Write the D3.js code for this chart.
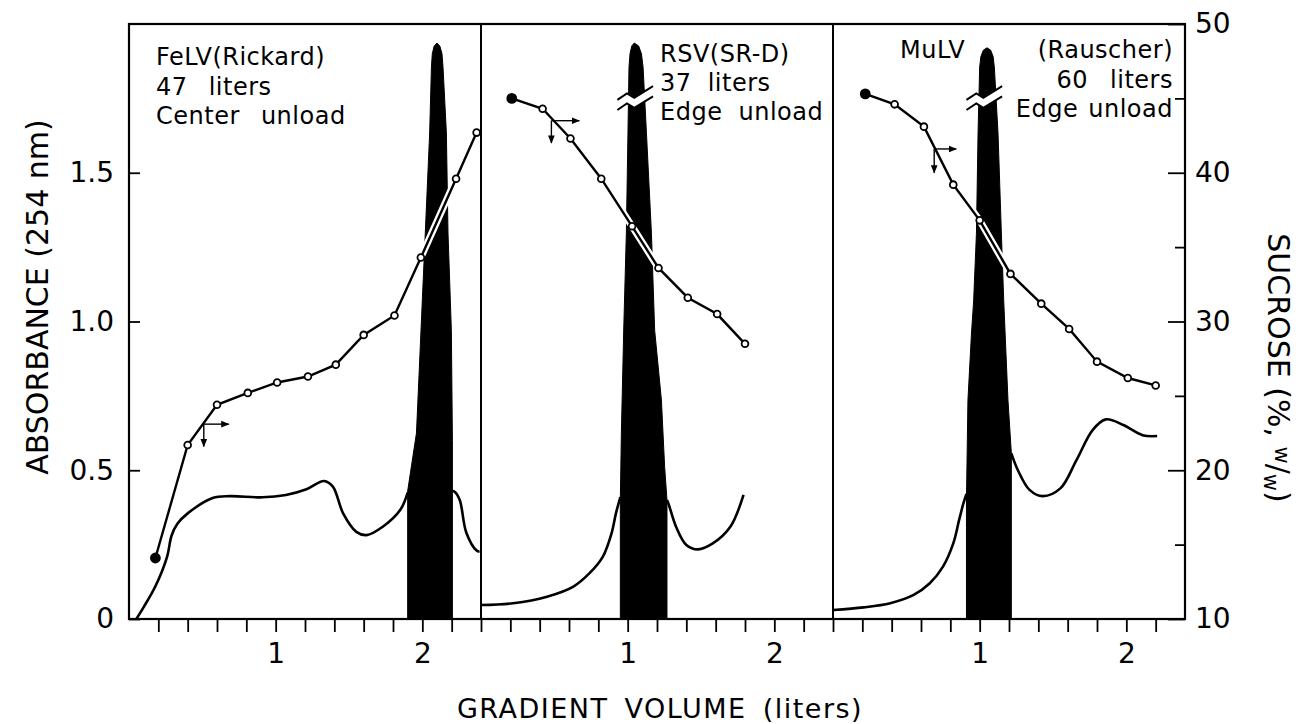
<!DOCTYPE html>
<html>
<head>
<meta charset="utf-8">
<script src="https://cdn.jsdelivr.net/npm/d3@7"></script>
<style>
    body { margin: 0; background: #fff; }
    svg { display: block; font-family: 'DejaVu Sans', sans-serif; }
</style>
</head>
<body>
<svg id="chart" width="1308" height="724"></svg>
<script>
// each panel covers 2.4 liters of gradient
const panelWidth = 2.4;

// sucrose (%, w/w) readings: [liters, sucrose]
const felvSucrose = [[0.18, 14.1], [0.40, 21.7], [0.60, 24.4], [0.81, 25.2], [1.01, 25.9], [1.22, 26.3],
    [1.41, 27.1], [1.60, 29.1], [1.81, 30.4], [1.99, 34.3], [2.23, 39.6], [2.37, 42.7]];
const rsvSucrose = [[0.21, 45.0], [0.42, 44.3], [0.61, 42.3], [0.82, 39.6], [1.03, 36.4], [1.21, 33.6],
    [1.41, 31.6], [1.61, 30.5], [1.80, 28.5]];
const mulvSucrose = [[0.22, 45.3], [0.42, 44.6], [0.62, 43.1], [0.82, 39.2], [1.00, 36.8], [1.21, 33.2],
    [1.42, 31.2], [1.61, 29.5], [1.80, 27.3], [2.01, 26.2], [2.20, 25.7]];

// absorbance (254 nm) trace on both sides of the virus band: [liters, absorbance]
const felvAbsBefore = [[0.05, 0], [0.10, 0.04], [0.18, 0.11], [0.26, 0.21], [0.29, 0.28], [0.33, 0.32],
    [0.40, 0.355], [0.57, 0.407], [0.69, 0.413], [0.91, 0.409], [1.07, 0.417], [1.21, 0.436], [1.33, 0.464],
    [1.39, 0.445], [1.46, 0.355], [1.55, 0.293], [1.62, 0.282], [1.73, 0.31], [1.85, 0.367], [1.90, 0.425]];
const felvAbsAfter = [[2.205, 0.43], [2.22, 0.428], [2.255, 0.40], [2.30, 0.29], [2.37, 0.23], [2.39, 0.226]];
const rsvAbsBefore = [[0.0, 0.047], [0.22, 0.053], [0.45, 0.075], [0.63, 0.109], [0.74, 0.154], [0.83, 0.209],
    [0.89, 0.288], [0.92, 0.355], [0.95, 0.41]];
const rsvAbsAfter = [[1.268, 0.40], [1.28, 0.385], [1.33, 0.31], [1.40, 0.249], [1.48, 0.234], [1.58, 0.254],
    [1.70, 0.31], [1.79, 0.417]];
const mulvAbsBefore = [[0.0, 0.03], [0.21, 0.039], [0.39, 0.053], [0.55, 0.081], [0.66, 0.12], [0.75, 0.176],
    [0.82, 0.254], [0.86, 0.333], [0.89, 0.39], [0.91, 0.42]];
const mulvAbsAfter = [[1.216, 0.557], [1.26, 0.501], [1.34, 0.434], [1.43, 0.413], [1.55, 0.439], [1.66, 0.534],
    [1.77, 0.635], [1.86, 0.671], [1.98, 0.652], [2.11, 0.618], [2.21, 0.615]];

// blackened virus band outline: [liters, absorbance]
const felvPeak = [[1.90, 0], [1.90, 0.43], [1.96, 0.625], [1.98, 0.847], [2.00, 1.072], [2.02, 1.297],
    [2.05, 1.634], [2.062, 1.855], [2.068, 1.90], [2.08, 1.925], [2.10, 1.936], [2.12, 1.925],
    [2.134, 1.90], [2.141, 1.855], [2.164, 1.634], [2.175, 1.297], [2.198, 0.97], [2.205, 0.60], [2.205, 0]];
const rsvPeak = [[0.95, 0], [0.95, 0.40], [0.957, 0.624], [0.973, 0.971], [0.991, 1.297], [1.002, 1.634],
    [1.009, 1.855], [1.016, 1.90], [1.028, 1.926], [1.045, 1.936], [1.075, 1.926], [1.094, 1.90],
    [1.105, 1.855], [1.128, 1.634], [1.162, 1.297], [1.184, 0.971], [1.23, 0.736], [1.252, 0.512],
    [1.268, 0.40], [1.268, 0]];
const mulvPeak = [[0.91, 0], [0.91, 0.40], [0.92, 0.735], [0.944, 0.958], [0.959, 1.07], [0.978, 1.297],
    [0.989, 1.634], [1.0, 1.855], [1.008, 1.89], [1.025, 1.912], [1.05, 1.92], [1.075, 1.912], [1.092, 1.89],
    [1.10, 1.855], [1.125, 1.634], [1.148, 1.297], [1.164, 1.07], [1.193, 0.735], [1.216, 0.557], [1.216, 0]];

// scale break drawn across the off-scale bands (upper edge): [liters, absorbance]
const rsvBreak = [[0.93, 1.745], [0.995, 1.767], [1.045, 1.752], [1.173, 1.791]];
const mulvBreak = [[0.91, 1.745], [0.977, 1.767], [1.025, 1.752], [1.153, 1.791]];
const breakGap = 0.034;

// axis direction arrows: [liters, sucrose, liters at arrow tip, sucrose at arrow tip]
const felvArrow = [0.51, 23.1, 0.68, 21.6];
const rsvArrow = [0.48, 43.5, 0.67, 42.0];
const mulvArrow = [0.69, 41.6, 0.84, 40.0];

const felvText = ['FeLV(Rickard)', '47 liters', 'Center unload'];
const rsvText = ['RSV(SR-D)', '37 liters', 'Edge unload'];
const mulvText = ['MuLV', '(Rauscher)', '60 liters', 'Edge unload'];

// ticks
const xTickValues = [0.2, 0.4, 0.6, 0.8, 1.0, 1.2, 1.4, 1.6, 1.8, 2.0, 2.2, 2.4];
const xTickLabels = { 1: '1', 2: '2' };
const absTicks = [0, 0.5, 1.0, 1.5];
const absTickLabels = ['0', '0.5', '1.0', '1.5'];
const sucroseMajor = [10, 20, 30, 40, 50];
const sucroseMinor = [15, 25, 35, 45];

const svg = d3.select('#chart');

const x = d3.scaleLinear().domain([0, 3 * panelWidth]).range([129, 1185]);
const yAbs = d3.scaleLinear().domain([0, 2]).range([619, 24]);
const ySuc = d3.scaleLinear().domain([10, 50]).range([619, 24]);

svg.append('defs')
    .append('marker')
    .attr('id', 'head')
    .attr('viewBox', '0 0 10 10')
    .attr('refX', 9)
    .attr('refY', 5)
    .attr('markerWidth', 6)
    .attr('markerHeight', 6)
    .attr('orient', 'auto')
    .append('path')
    .attr('d', 'M0,1L10,5L0,9Z')
    .attr('fill', '#000');

const panels = [
    { sucrose: felvSucrose, before: felvAbsBefore, after: felvAbsAfter, peak: felvPeak, brk: null, arrow: felvArrow },
    { sucrose: rsvSucrose, before: rsvAbsBefore, after: rsvAbsAfter, peak: rsvPeak, brk: rsvBreak, arrow: rsvArrow },
    { sucrose: mulvSucrose, before: mulvAbsBefore, after: mulvAbsAfter, peak: mulvPeak, brk: mulvBreak, arrow: mulvArrow }
];

panels.forEach((p, i) => {
    const off = i * panelWidth;
    const g = svg.append('g');

    const absLine = d3.line()
        .x(d => x(off + d[0]))
        .y(d => yAbs(d[1]))
        .curve(d3.curveCatmullRom.alpha(0.5));

    [p.before, p.after].forEach(seg => {
        g.append('path')
            .attr('d', absLine(seg))
            .attr('fill', 'none')
            .attr('stroke', '#000')
            .attr('stroke-width', 2.6);
    });

    const peakLine = d3.line()
        .x(d => x(off + d[0]))
        .y(d => yAbs(d[1]));

    g.append('path')
        .attr('d', peakLine(p.peak) + 'Z')
        .attr('fill', '#000')
        .attr('stroke', '#000')
        .attr('stroke-width', 1)
        .attr('stroke-linejoin', 'round');

    if (p.brk) {
        const lower = p.brk.map(d => [d[0], d[1] - breakGap]);
        g.append('path')
            .attr('d', peakLine(p.brk.concat(lower.slice().reverse())) + 'Z')
            .attr('fill', '#fff');
        [p.brk, lower].forEach(l => {
            g.append('path')
                .attr('d', peakLine(l))
                .attr('fill', 'none')
                .attr('stroke', '#000')
                .attr('stroke-width', 2);
        });
    }

    const sucLine = d3.line()
        .x(d => x(off + d[0]))
        .y(d => ySuc(d[1]));

    // white halo shows where the sucrose line crosses the black band
    g.append('path')
        .attr('d', sucLine(p.sucrose))
        .attr('fill', 'none')
        .attr('stroke', '#fff')
        .attr('stroke-width', 7);
    g.append('path')
        .attr('d', sucLine(p.sucrose))
        .attr('fill', 'none')
        .attr('stroke', '#000')
        .attr('stroke-width', 2.4);

    g.selectAll('circle')
        .data(p.sucrose)
        .enter()
        .append('circle')
        .attr('cx', d => x(off + d[0]))
        .attr('cy', d => ySuc(d[1]))
        .attr('r', (d, j) => (j === 0 ? 4.5 : 3.4))
        .attr('fill', (d, j) => (j === 0 ? '#000' : '#fff'))
        .attr('stroke', '#000')
        .attr('stroke-width', 1.8);

    const a = p.arrow;
    g.append('line')
        .attr('x1', x(off + a[0])).attr('y1', ySuc(a[1]))
        .attr('x2', x(off + a[2])).attr('y2', ySuc(a[1]))
        .attr('stroke', '#000').attr('stroke-width', 1.4)
        .attr('marker-end', 'url(#head)');
    g.append('line')
        .attr('x1', x(off + a[0])).attr('y1', ySuc(a[1]))
        .attr('x2', x(off + a[0])).attr('y2', ySuc(a[3]))
        .attr('stroke', '#000').attr('stroke-width', 1.4)
        .attr('marker-end', 'url(#head)');
});

// frame and panel dividers
svg.append('rect')
    .attr('x', x(0))
    .attr('y', yAbs(2))
    .attr('width', x(3 * panelWidth) - x(0))
    .attr('height', yAbs(0) - yAbs(2))
    .attr('fill', 'none')
    .attr('stroke', '#000')
    .attr('stroke-width', 2.2);

svg.selectAll('.divider')
    .data([panelWidth, 2 * panelWidth])
    .enter()
    .append('line')
    .attr('class', 'divider')
    .attr('x1', d => x(d)).attr('x2', d => x(d))
    .attr('y1', yAbs(2)).attr('y2', yAbs(0))
    .attr('stroke', '#000')
    .attr('stroke-width', 2);

// bottom axis, one per panel
[0, 1, 2].forEach(i => {
    const off = i * panelWidth;
    const xp = d3.scaleLinear().domain([0, panelWidth]).range([x(off), x(off + panelWidth)]);
    const vals = i === 2 ? xTickValues.slice(0, -1) : xTickValues;
    const ax = svg.append('g')
        .attr('transform', 'translate(0,' + yAbs(0) + ')')
        .call(d3.axisBottom(xp)
            .tickValues(vals)
            .tickSize(13)
            .tickPadding(11)
            .tickFormat(d => xTickLabels[Math.round(d * 10) / 10] || ''));
    ax.select('.domain').remove();
});

// left axis, absorbance
const leftAx = svg.append('g')
    .attr('transform', 'translate(' + x(0) + ',0)')
    .call(d3.axisLeft(yAbs)
        .tickValues(absTicks)
        .tickSize(-11)
        .tickPadding(15)
        .tickFormat((d, j) => absTickLabels[j]));
leftAx.select('.domain').remove();

// right axis, sucrose
const rightAx = svg.append('g')
    .attr('transform', 'translate(' + x(3 * panelWidth) + ',0)')
    .call(d3.axisRight(ySuc)
        .tickValues(sucroseMajor)
        .tickSize(-17)
        .tickPadding(10)
        .tickFormat(d3.format('d')));
rightAx.select('.domain').remove();

const minorAx = svg.append('g')
    .attr('transform', 'translate(' + x(3 * panelWidth) + ',0)')
    .call(d3.axisRight(ySuc).tickValues(sucroseMinor).tickSize(-10).tickFormat(''));
minorAx.select('.domain').remove();

svg.selectAll('.tick line').attr('stroke', '#000').attr('stroke-width', 1.8);
svg.selectAll('.tick text')
    .attr('fill', '#000')
    .style('font-family', "'DejaVu Sans', sans-serif")
    .style('font-size', '28px');

// panel captions
const caption = (str, px, py, anchor, gap) => {
    svg.append('text')
        .attr('x', px)
        .attr('y', py)
        .attr('text-anchor', anchor)
        .style('font-size', '24px')
        .style('letter-spacing', '0.5px')
        .style('word-spacing', gap + 'px')
        .text(str);
};

felvText.forEach((t, j) => caption(t, x(0) + 27, 65 + j * 29.5, 'start', 13));
rsvText.forEach((t, j) => caption(t, x(panelWidth) + 179, 62 + j * 29, 'start', 8));
caption(mulvText[0], x(2 * panelWidth) + 67, 58, 'start', 0);
mulvText.slice(1).forEach((t, j) => caption(t, x(3 * panelWidth) - 12, 58 + j * 29.5, 'end', j === 1 ? 14 : 2));

// axis titles
svg.append('text')
    .attr('transform', 'translate(48,297) rotate(-90)')
    .attr('text-anchor', 'middle')
    .style('font-size', '30px')
    .text('ABSORBANCE (254 nm)');

const rt = svg.append('text')
    .attr('transform', 'translate(1268,368) rotate(90)')
    .attr('text-anchor', 'middle')
    .style('font-size', '30px');
rt.append('tspan').text('SUCROSE (%, ');
rt.append('tspan').attr('baseline-shift', '35%').style('font-size', '21px').text('w');
rt.append('tspan').text('/');
rt.append('tspan').attr('baseline-shift', '-20%').style('font-size', '21px').text('w');
rt.append('tspan').text(')');

svg.append('text')
    .attr('x', 660)
    .attr('y', 718)
    .attr('text-anchor', 'middle')
    .style('font-size', '27px')
    .style('letter-spacing', '1.5px')
    .style('word-spacing', '6px')
    .text('GRADIENT VOLUME (liters)');
</script>
</body>
</html>
